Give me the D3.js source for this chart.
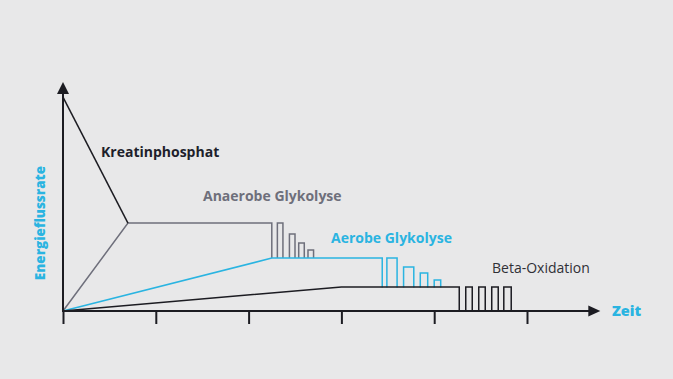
<!DOCTYPE html>
<html>
<head>
<meta charset="utf-8">
<script src="https://cdn.jsdelivr.net/npm/d3@7"></script>
<style>
  html, body { margin: 0; padding: 0; background: #e8e8e9; }
  svg { display: block; }
  text { font-family: 'Open Sans', sans-serif; }
</style>
</head>
<body>
<svg id="chart" width="673" height="379"></svg>
<script>
// time ticks along the x axis
const TICKS = [0, 1, 2, 3, 4, 5]

// Kreatinphosphat: peak then falls to the anaerobe plateau
const KREATIN = [[0, 93.4], [0.7, 38.4]]
// Anaerobe Glykolyse plateau, then pulses
const ANAEROB = [[0, 0], [0.7, 38.4], [2.25, 38.4], [2.25, 23.1]]
const ANAEROB_PULSES = [[2.31, 2.37, 38.4], [2.44, 2.5, 33.6], [2.54, 2.6, 29.7], [2.64, 2.7, 26.6]]
const ANAEROB_BASE = 23.1
// Aerobe Glykolyse
const AEROB = [[0, 0], [2.25, 23.1], [3.44, 23.1], [3.44, 10.3]]
const AEROB_PULSES = [[3.49, 3.6, 23.1], [3.67, 3.78, 19.2], [3.85, 3.93, 16.6], [4.0, 4.07, 13.5]]
const AEROB_BASE = 10.3
// Beta-Oxidation
const BETA = [[0, 0], [3.0, 10.5], [4.27, 10.5], [4.27, 0]]
const BETA_PULSES = [[4.34, 4.41, 10.5], [4.48, 4.55, 10.5], [4.62, 4.69, 10.5], [4.75, 4.83, 10.5]]
const BETA_BASE = 0

const LABELS = ['Kreatinphosphat', 'Anaerobe Glykolyse', 'Aerobe Glykolyse', 'Beta-Oxidation']

const CYAN = '#2ab4e1'
const GRAY = '#6e6f7b'
const DARK = '#1c1c22'

const svg = d3.select('#chart')
const x = d3.scaleLinear().domain([0, 5]).range([63, 527])
const y = d3.scaleLinear().domain([0, 100]).range([311, 82])
const line = d3.line().x((d) => x(d[0])).y((d) => y(d[1]))

const pulsePath = (p, base) => line([[p[0], base], [p[0], p[2]], [p[1], p[2]], [p[1], base]])

function drawSeries(points, pulses, base, color) {
    svg.append('path')
        .attr('d', line(points))
        .attr('fill', 'none')
        .attr('stroke', color)
        .attr('stroke-width', 1.5)
    svg.selectAll(null)
        .data(pulses)
        .enter()
        .append('path')
        .attr('d', (p) => pulsePath(p, base))
        .attr('fill', 'none')
        .attr('stroke', color)
        .attr('stroke-width', 1.5)
}

drawSeries(ANAEROB, ANAEROB_PULSES, ANAEROB_BASE, GRAY)
drawSeries(AEROB, AEROB_PULSES, AEROB_BASE, CYAN)
drawSeries(BETA, BETA_PULSES, BETA_BASE, DARK)
svg.append('path')
    .attr('d', line(KREATIN))
    .attr('fill', 'none')
    .attr('stroke', DARK)
    .attr('stroke-width', 1.5)

// x axis with ticks below
const xAxis = svg.append('g')
    .attr('transform', 'translate(0,' + y(0) + ')')
    .call(d3.axisBottom(x).tickValues(TICKS).tickSize(13).tickFormat(''))
xAxis.select('.domain').remove()
xAxis.selectAll('line').attr('stroke', DARK).attr('stroke-width', 2)

const xEnd = 5.79
svg.append('line')
    .attr('x1', x(0)).attr('x2', x(xEnd) - 8)
    .attr('y1', y(0)).attr('y2', y(0))
    .attr('stroke', DARK).attr('stroke-width', 2)
svg.append('path')
    .attr('d', `M${x(xEnd)},${y(0)} L${x(xEnd) - 12},${y(0) - 5.5} L${x(xEnd) - 12},${y(0) + 5.5} Z`)
    .attr('fill', DARK)

// y axis with arrow
svg.append('line')
    .attr('x1', x(0)).attr('x2', x(0))
    .attr('y1', y(0) + 1).attr('y2', y(100) + 8)
    .attr('stroke', DARK).attr('stroke-width', 2)
svg.append('path')
    .attr('d', `M${x(0)},${y(100)} L${x(0) - 6},${y(100) + 12} L${x(0) + 6},${y(100) + 12} Z`)
    .attr('fill', DARK)

// series labels
svg.append('text').attr('x', 101).attr('y', 157).text(LABELS[0])
    .attr('fill', '#1e1f2b').attr('font-weight', 700).attr('font-size', 14)
svg.append('text').attr('x', 203).attr('y', 201).text(LABELS[1])
    .attr('fill', GRAY).attr('font-weight', 700).attr('font-size', 14)
svg.append('text').attr('x', 331).attr('y', 243).text(LABELS[2])
    .attr('fill', CYAN).attr('font-weight', 700).attr('font-size', 14)
svg.append('text').attr('x', 492).attr('y', 273).text(LABELS[3])
    .attr('fill', '#303036').attr('font-weight', 400).attr('font-size', 14)

// axis titles
svg.append('text').attr('x', 612).attr('y', 316).text('Zeit')
    .attr('fill', CYAN).attr('font-weight', 800).attr('font-size', 14.5)
svg.append('text')
    .attr('transform', 'translate(45,223) rotate(-90)')
    .attr('text-anchor', 'middle')
    .text('Energieflussrate')
    .attr('fill', CYAN).attr('font-weight', 800).attr('font-size', 13.5)
</script>
</body>
</html>
